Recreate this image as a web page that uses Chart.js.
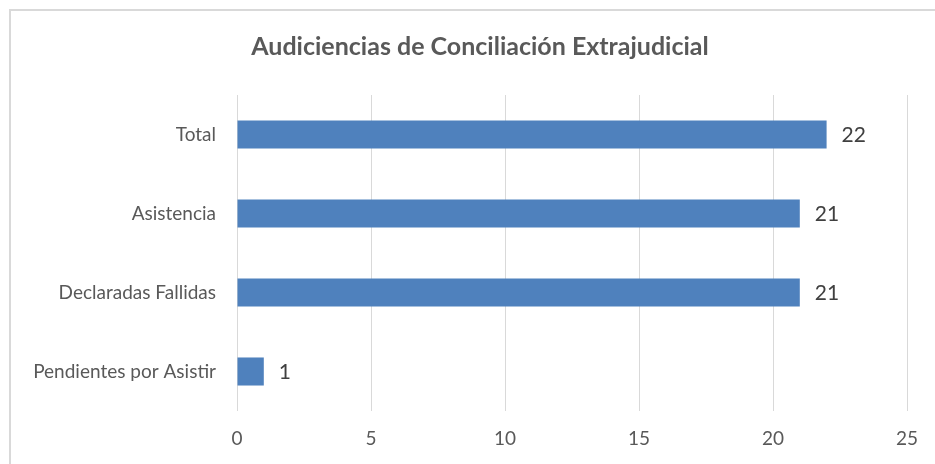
<!DOCTYPE html>
<html>
<head>
<meta charset="utf-8">
<script src="https://cdn.jsdelivr.net/npm/chart.js@4/dist/chart.umd.min.js"></script>
<style>
  html, body { margin: 0; padding: 0; background: #fff; }
  #wrap { position: relative; width: 935px; height: 464px; overflow: hidden; }
  #frame { position: absolute; left: 9px; top: 9px; right: -10px; bottom: -10px; border: 2px solid #d9d9d9; }
  canvas { position: absolute; left: 0; top: 0; }
</style>
</head>
<body>
<div id="wrap">
  <div id="frame"></div>
  <canvas id="chart" width="935" height="464"></canvas>
</div>
<script>
// chart data
const chartTitle = 'Audiciencias de Conciliación Extrajudicial';
const categories = ['Total', 'Asistencia', 'Declaradas Fallidas', 'Pendientes por Asistir'];
const values = [22, 21, 21, 1];
const xMax = 25;
const xStep = 5;

const barColor = '#4f81bd';
const textColor = '#595959';
const fontFamily = 'Lato, "Open Sans", sans-serif';

// title drawn centred over the chart box
const titlePlugin = {
    id: 'titleText',
    afterDraw(chart) {
        const c = chart.ctx;
        c.save();
        c.font = 'bold 25px ' + fontFamily;
        c.fillStyle = textColor;
        c.textAlign = 'center';
        c.textBaseline = 'middle';
        c.fillText(chartTitle, 480, 47);
        c.restore();
    }
};

// value labels at the end of each bar
const valueLabels = {
    id: 'valueLabels',
    afterDatasetsDraw(chart) {
        const c = chart.ctx;
        const meta = chart.getDatasetMeta(0);
        c.save();
        c.font = '21px ' + fontFamily;
        c.fillStyle = '#404040';
        c.textAlign = 'left';
        c.textBaseline = 'middle';
        meta.data.forEach((bar, i) => {
            c.fillText(values[i], bar.x + 15, bar.y + 1);
        });
        c.restore();
    }
};

new Chart(document.getElementById('chart'), {
    type: 'bar',
    data: {
        labels: categories,
        datasets: [{
            data: values,
            backgroundColor: barColor,
            barPercentage: 0.355,
            categoryPercentage: 1
        }]
    },
    options: {
        indexAxis: 'y',
        responsive: false,
        animation: false,
        layout: { padding: { left: 9, right: 28, top: 95, bottom: 0 } },
        plugins: {
            legend: { display: false },
            title: { display: false },
            tooltip: { enabled: false }
        },
        scales: {
            x: {
                min: 0,
                max: xMax,
                ticks: { stepSize: xStep, padding: 16, color: textColor, font: { family: fontFamily, size: 19 } },
                grid: { color: '#d9d9d9', lineWidth: 1, drawTicks: false },
                border: { display: false },
                afterFit(scale) { scale.height = 53; }
            },
            y: {
                ticks: { padding: 21, color: textColor, font: { family: fontFamily, size: 19 } },
                grid: { display: false, drawTicks: false },
                border: { display: false },
                afterFit(scale) { scale.width = 228; }
            }
        }
    },
    plugins: [titlePlugin, valueLabels]
});
</script>
</body>
</html>
